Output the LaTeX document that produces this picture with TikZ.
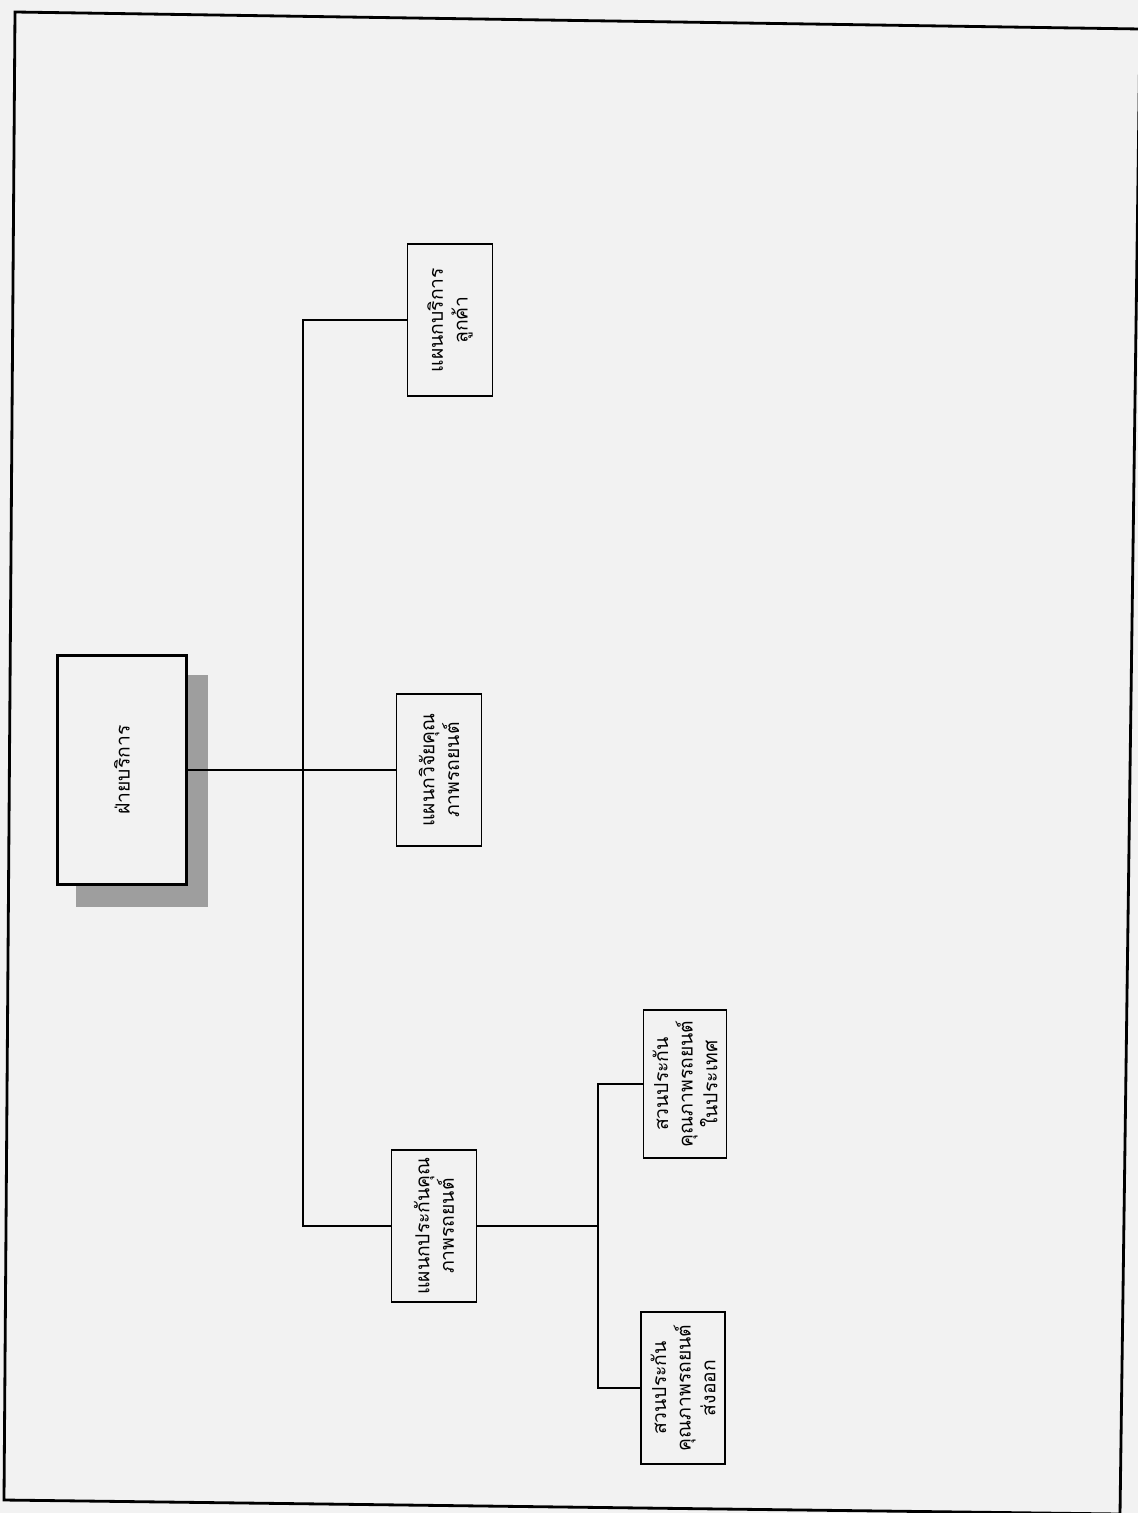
\documentclass[tikz,border=0pt]{standalone}
\usepackage{fontspec}
\newfontfamily\thaifont[Script=Thai]{Loma}
\usetikzlibrary{backgrounds}
\definecolor{paper}{gray}{0.95}
\definecolor{shadowgray}{gray}{0.62}
\tikzset{
  unitbox/.style={draw, line width=1.1pt, fill=paper, rotate=90, align=center, inner sep=2pt,
    font=\thaifont\fontsize{11}{14}\selectfont, minimum width=3.04cm, minimum height=1.7cm},
  mainbox/.style={unitbox, line width=1.5pt, minimum width=4.58cm, minimum height=2.58cm},
  link/.style={line width=1.1pt}
}
\begin{document}
\begin{tikzpicture}[x=0.02cm, y=-0.02cm]
  \useasboundingbox (0,0) rectangle (1138,1513);
  % page frame
  \draw[line width=1.6pt] (15,12) -- (1140,29) -- (1120,1514) -- (4,1500) -- cycle;
  % boxes
  \node[mainbox] (main) at (122,770) {ฝ่ายบริการ};
  \node[unitbox] (svc) at (450,320) {แผนกบริการ\\ลูกค้า};
  \node[unitbox] (res) at (439,770) {แผนกวิจัยคุณ\\ภาพรถยนต์};
  \node[unitbox] (qa) at (434,1226) {แผนกประกันคุณ\\ภาพรถยนต์};
  \node[unitbox, minimum width=2.96cm, minimum height=1.66cm] (dom) at (685,1084) {สวนประกัน\\คุณภาพรถยนต์\\ในประเทศ};
  \node[unitbox, minimum height=1.68cm] (exp) at (683,1388) {สวนประกัน\\คุณภาพรถยนต์\\ส่งออก};
  % paper and shadow of the main box
  \begin{scope}[on background layer]
    \fill[paper] (0,0) rectangle (1138,1513);
    \fill[shadowgray] ([shift={(20,21)}]main.north east) rectangle ([shift={(20,21)}]main.south west);
  \end{scope}
  % connectors
  \coordinate (trunk) at (303,770);
  \coordinate (fork) at (598,1226);
  \draw[link] (main.south) -- (res.north);
  \draw[link] (svc.north) -| (trunk) |- (qa.north);
  \draw[link] (qa.south) -- (fork);
  \draw[link] (dom.north) -| (fork) |- (exp.north);
\end{tikzpicture}
\end{document}
